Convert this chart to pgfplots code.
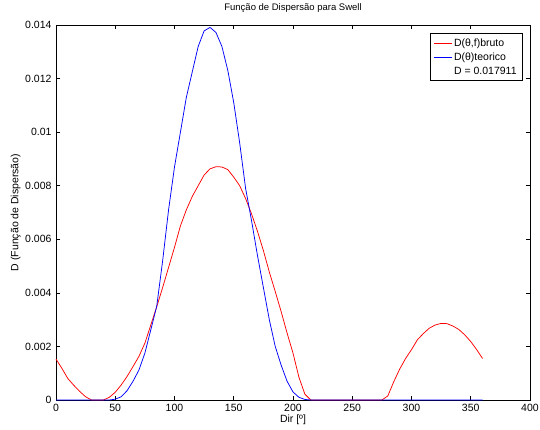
\documentclass[border=0pt]{standalone}
\usepackage{fontspec}
\setmainfont{Liberation Sans}
\usepackage{pgfplots}
\pgfplotsset{compat=1.18}

% D(theta,f) bruto, every 5 degrees
\pgfplotstableread{
dir D
0 0.00153
5 0.00118
10 0.00080
15 0.00055
20 0.00032
25 0.00012
30 0.0
35 0.0
40 0.0
45 0.00010
50 0.00029
55 0.00056
60 0.00088
65 0.00125
70 0.00163
75 0.00212
80 0.00280
85 0.00348
90 0.00420
95 0.00495
100 0.00570
105 0.00650
110 0.00710
115 0.00760
120 0.00800
125 0.00840
130 0.00863
135 0.00871
140 0.00870
145 0.00860
150 0.00832
155 0.00800
160 0.00752
165 0.00695
170 0.00630
175 0.00558
180 0.00478
185 0.00405
190 0.00330
195 0.00250
200 0.00175
205 0.00085
210 0.00022
215 0.0
220 0.0
225 0.0
230 0.0
235 0.0
240 0.0
245 0.0
250 0.0
255 0.0
260 0.0
265 0.0
270 0.0
275 0.0
280 0.00015
285 0.00068
290 0.00115
295 0.00155
300 0.00188
305 0.00225
310 0.00248
315 0.00268
320 0.00280
325 0.00286
330 0.00285
335 0.00276
340 0.00263
345 0.00243
350 0.00218
355 0.00188
360 0.00155
}\bruto

% D(theta) teorico
\pgfplotstableread{
dir D
0 0.0
5 0.0
10 0.0
15 0.0
20 0.0
25 0.0
30 0.0
35 0.0
40 0.0
45 0.0
50 0.00003
55 0.00012
60 0.00035
65 0.00070
70 0.00112
75 0.00175
80 0.00262
85 0.00350
90 0.00520
95 0.00710
100 0.00870
105 0.01000
110 0.01130
115 0.01225
120 0.01320
125 0.01378
130 0.01391
135 0.01372
140 0.01320
145 0.01230
150 0.01110
155 0.00960
160 0.00790
165 0.00670
170 0.00540
175 0.00420
180 0.00300
185 0.00200
190 0.00130
195 0.00070
200 0.00030
205 0.00010
210 0.00002
215 0.0
220 0.0
225 0.0
230 0.0
235 0.0
240 0.0
245 0.0
250 0.0
255 0.0
260 0.0
265 0.0
270 0.0
275 0.0
280 0.0
285 0.0
290 0.0
295 0.0
300 0.0
305 0.0
310 0.0
315 0.0
320 0.0
325 0.0
330 0.0
335 0.0
340 0.0
345 0.0
350 0.0
355 0.0
360 0.0
}\teorico

\begin{document}
\begin{tikzpicture}
\begin{axis}[
  scale only axis,
  width=474pt, height=375pt,
  xmin=0, xmax=400, ymin=0, ymax=0.014,
  xtick={0,50,100,150,200,250,300,350,400},
  ytick={0,0.002,0.004,0.006,0.008,0.01,0.012,0.014},
  yticklabels={0,0.002,0.004,0.006,0.008,0.01,0.012,0.014},
  scaled y ticks=false,
  /pgf/number format/assume math mode=true,
  tick align=inside,
  major tick length=4pt,
  tick style={black, line width=0.6pt},
  axis line style={line width=0.8pt},
  tick label style={font=\fontsize{10.5}{12}\selectfont},
  xticklabel style={yshift=-1pt},
  yticklabel style={xshift=-1pt},
  title={Função de Dispersão para Swell},
  title style={font=\fontsize{9.5}{11}\selectfont, at={(axis description cs:0.5,1)}, anchor=south, yshift=6pt, inner sep=0pt},
  xlabel={Dir [º]},
  xlabel style={font=\fontsize{10.5}{12}\selectfont, at={(axis description cs:0.5,0)}, anchor=north, yshift=-15pt, inner sep=0pt},
  ylabel={D (Função de Dispersão)},
  ylabel style={font=\fontsize{10.5}{12}\selectfont, at={(axis description cs:-0.085,0.5)}, anchor=center, inner sep=0pt},
  legend style={at={(axis description cs:0.985,0.978)}, anchor=north east,
    draw=black, line width=0.6pt, fill=white,
    font=\fontsize{10.5}{12}\selectfont,
    row sep=1pt, inner xsep=4pt, inner ysep=3pt,
    /tikz/every even column/.append style={column sep=3pt}},
  legend cell align=left,
  legend image post style={line width=1pt},
  every axis plot/.append style={line width=0.75pt},
  clip=false,
]
\addplot[color=red, no markers] table[x=dir, y=D] {\bruto};
\addlegendentry{D(θ,f)bruto}
\addplot[color=blue, no markers] table[x=dir, y=D] {\teorico};
\addlegendentry{D(θ)teorico}
\addlegendimage{empty legend}
\addlegendentry{D = 0.017911}
\end{axis}
\pgfresetboundingbox
\path (-56pt,-30pt) rectangle (484pt,400pt);
\end{tikzpicture}
\end{document}
